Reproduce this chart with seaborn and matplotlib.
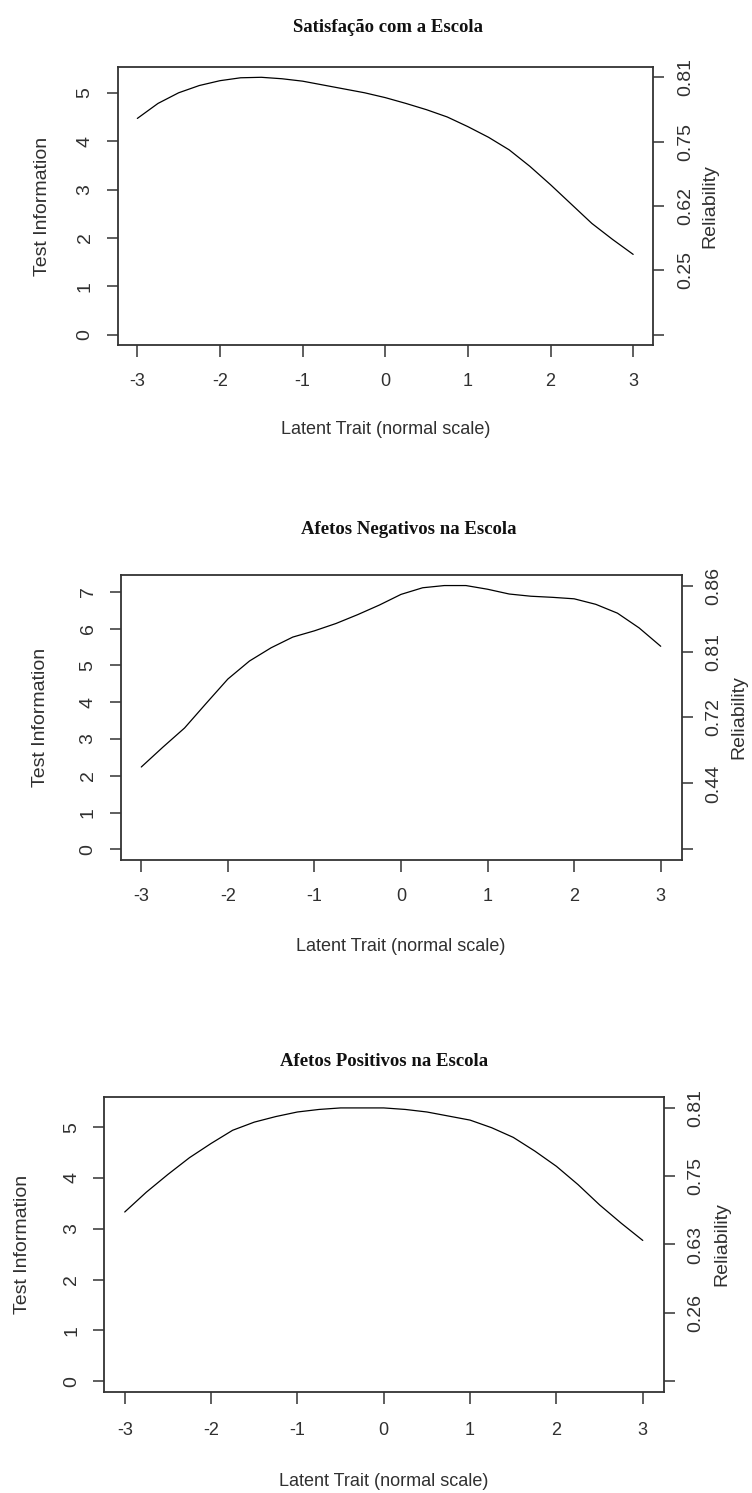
"""
Test information curves (ltm style) for three school scales,
each with a reliability axis on the right.
"""

import numpy as np
import matplotlib
matplotlib.use("Agg")
import matplotlib.pyplot as plt
import seaborn as sns

sns.set_style("ticks")
plt.rcParams["font.family"] = ["Liberation Sans", "DejaVu Sans"]
plt.rcParams["axes.unicode_minus"] = False

# Data
theta = [-3.0, -2.75, -2.5, -2.25, -2.0, -1.75, -1.5, -1.25, -1.0, -0.75, -0.5, -0.25,
         0.0, 0.25, 0.5, 0.75, 1.0, 1.25, 1.5, 1.75, 2.0, 2.25, 2.5, 2.75, 3.0]

info_satisfacao = [4.47, 4.78, 5.00, 5.15, 5.25, 5.31, 5.32, 5.29, 5.24, 5.16, 5.08, 5.00,
                   4.90, 4.78, 4.65, 4.50, 4.30, 4.08, 3.82, 3.48, 3.10, 2.70, 2.30, 1.97, 1.66]
info_negativos = [2.24, 2.78, 3.30, 3.97, 4.63, 5.12, 5.48, 5.77, 5.94, 6.14, 6.38, 6.64,
                  6.93, 7.11, 7.17, 7.17, 7.07, 6.94, 6.88, 6.85, 6.81, 6.66, 6.42, 6.02, 5.52]
info_positivos = [3.33, 3.72, 4.07, 4.40, 4.68, 4.94, 5.10, 5.21, 5.30, 5.35, 5.38, 5.38,
                  5.38, 5.35, 5.30, 5.22, 5.14, 4.99, 4.80, 4.53, 4.23, 3.87, 3.47, 3.11, 2.77]

titles = ["Satisfação com a Escola", "Afetos Negativos na Escola", "Afetos Positivos na Escola"]
x_ticks = [-3, -2, -1, 0, 1, 2, 3]
rel_labels_satisfacao = ["", "0.25", "0.62", "0.75", "0.81"]
rel_labels_negativos = ["", "0.44", "0.72", "0.81", "0.86"]
rel_labels_positivos = ["", "0.26", "0.63", "0.75", "0.81"]

XLABEL = "Latent Trait (normal scale)"
YLABEL = "Test Information"
RLABEL = "Reliability"

# Layout in pixels: (left, right, top, bottom) of each plot box
FIG_W, FIG_H = 752, 1493
BOXES = [(117.5, 653, 67, 345), (120.5, 681.5, 575, 860), (104, 663.5, 1097, 1392)]
TITLE_OFFSET = [40, 45, 36]       # px above box, to title centre
TITLE_X = [0.505, 0.514, 0.5]
XTICK_PAD = [11.3, 11.6, 13.0]    # pt
XLABEL_OFFSET = [85, 87, 90]      # px below box
YLABEL_OFFSET = [75, 80, 81]      # px left of box
RLABEL_OFFSET = [57, 57, 58]      # px right of box

INK = "#333333"
TXT = "#303030"
PX = 0.72  # points per pixel at dpi 100


def draw_panel(fig, i, info, title, rel_labels):
    left, right, top, bottom = BOXES[i]
    w, h = right - left, bottom - top
    ax = fig.add_axes([left / FIG_W, 1 - bottom / FIG_H, w / FIG_W, h / FIG_H])

    sns.lineplot(x=theta, y=info, ax=ax, color="black", linewidth=0.9)

    # R-style 4% padding; y axis always starts at 0
    span = max(theta) - min(theta)
    ymax = max(info)
    ax.set_xlim(min(theta) - 0.04 * span, max(theta) + 0.04 * span)
    ax.set_ylim(-0.04 * ymax, 1.04 * ymax)

    y_ticks = list(range(int(np.floor(ymax)) + 1))
    ax.set_xticks(x_ticks)
    ax.set_xticklabels([str(t) for t in x_ticks], fontsize=13)
    ax.set_yticks(y_ticks)
    ax.set_yticklabels([str(t) for t in y_ticks], rotation=90, va="center",
                       ha="right", fontsize=14)

    for spine in ax.spines.values():
        spine.set_visible(True)
        spine.set_color(INK)
        spine.set_linewidth(1.3)
    ax.tick_params(axis="both", direction="out", width=1.1, color=INK, labelcolor=TXT)
    ax.tick_params(axis="x", length=8.6, pad=XTICK_PAD[i])
    ax.tick_params(axis="y", length=7.7, pad=9.5)

    ax.set_xlabel(XLABEL, fontsize=13, color=TXT, va="center")
    ax.xaxis.set_label_coords(0.5, -XLABEL_OFFSET[i] / h)
    ax.set_ylabel(YLABEL, fontsize=14, color=TXT)
    ax.yaxis.label.set_va("center")
    ax.yaxis.set_label_coords(-YLABEL_OFFSET[i] / w, 0.5)

    ax.set_title(title, fontfamily="Liberation Serif", fontweight="bold",
                 fontsize=13.5, color="#111111", va="center",
                 pad=TITLE_OFFSET[i] * PX, x=TITLE_X[i])

    # Reliability axis: five equally spaced ticks from 0 to the max information
    ax2 = ax.twinx()
    ax2.set_ylim(ax.get_ylim())
    ax2.set_yticks(np.linspace(0, ymax, 5))
    ax2.set_yticklabels(rel_labels, rotation=90, va="center", ha="left")
    for spine in ax2.spines.values():
        spine.set_visible(False)
    ax2.tick_params(axis="y", direction="out", length=7.7, width=1.1, pad=9.5,
                    color=INK, labelcolor=TXT, labelsize=14)
    ax2.set_ylabel(RLABEL, fontsize=14, color=TXT, rotation=90)
    ax2.yaxis.label.set_va("center")
    ax2.yaxis.set_label_coords(1 + RLABEL_OFFSET[i] / w, 0.5)


def main():
    fig = plt.figure(figsize=(FIG_W / 100, FIG_H / 100), dpi=100)
    fig.patch.set_facecolor("white")

    series = [info_satisfacao, info_negativos, info_positivos]
    rel = [rel_labels_satisfacao, rel_labels_negativos, rel_labels_positivos]
    for i in range(3):
        draw_panel(fig, i, series[i], titles[i], rel[i])

    fig.savefig("out.png", dpi=100, facecolor="white")
    plt.close(fig)


if __name__ == "__main__":
    main()
